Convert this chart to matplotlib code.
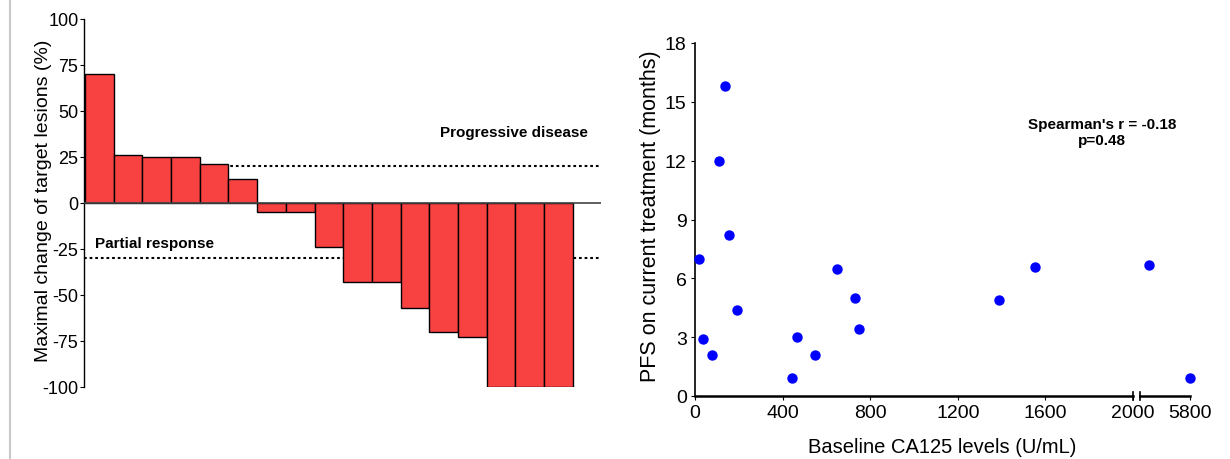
import numpy as np
import matplotlib.pyplot as plt
from matplotlib.lines import Line2D

plt.rcParams['font.family'] = ['Liberation Sans', 'DejaVu Sans']
plt.rcParams['axes.unicode_minus'] = False

# waterfall data: maximal change of target lesions (%)
change = [70, 26, 25, 25, 21, 13, -5, -5, -24, -43, -43, -57, -70, -73, -100, -100, -100]
pd_line = 20
pr_line = -30

# scatter data: baseline CA125 (U/mL) vs PFS (months)
ca125 = [18, 38, 77, 111, 138, 155, 194, 442, 467, 548, 650, 731, 751, 1389, 1551, 2650, 5800]
pfs = [7.0, 2.9, 2.1, 12.0, 15.8, 8.2, 4.4, 0.9, 3.0, 2.1, 6.5, 5.0, 3.4, 4.9, 6.6, 6.7, 0.9]

fig = plt.figure(figsize=(12.3, 4.6), dpi=100)
fig.add_artist(Line2D([10/1230, 10/1230], [0, 1], color='#c8c8c8', lw=1.5))

# ---- left: waterfall
ax = fig.add_axes([84/1230, 72/460, 517/1230, 368/460])
x = np.arange(len(change))
ax.axhline(pd_line, color='black', lw=1.5, ls=(0, (1.3, 1.4)), zorder=1)
ax.axhline(pr_line, color='black', lw=1.5, ls=(0, (1.3, 1.4)), zorder=1)
ax.bar(x, change, width=1, color='#f84141', edgecolor='black', lw=1, zorder=2)
ax.axhline(0, color='#444444', lw=1.2, zorder=3)
ax.set_xlim(-0.53, 17.48)
ax.set_ylim(-100, 100)
ax.set_yticks([100, 75, 50, 25, 0, -25, -50, -75, -100])
ax.set_xticks([])
for s in ['top', 'right', 'bottom']:
    ax.spines[s].set_visible(False)
ax.spines['left'].set_linewidth(1)
ax.tick_params(axis='y', labelsize=13, length=3, pad=1)
ax.set_ylabel('Maximal change of target lesions (%)', fontsize=14)
ax.yaxis.set_label_coords(-0.062, 0.51)
ax.text(17.03, 38.5, 'Progressive disease', ha='right', va='center',
        fontsize=11, fontweight='bold')
ax.text(-0.15, -22, 'Partial response', ha='left', va='center',
        fontsize=11, fontweight='bold')

# ---- right: scatter with broken x axis
ca = np.array(ca125)
pf = np.array(pfs)
lo = ca <= 2000

ax2 = fig.add_axes([695/1230, 63/460, 438/1230, 353/460])
ax2.scatter(ca[lo], pf[lo], s=42, color='#0000ff', zorder=3, clip_on=False)
ax2.set_xlim(0, 2000)
ax2.set_ylim(0, 18)
ax2.set_xticks([0, 400, 800, 1200, 1600, 2000])
ax2.set_yticks([0, 3, 6, 9, 12, 15, 18])
for s in ['top', 'right']:
    ax2.spines[s].set_visible(False)
ax2.spines['left'].set_linewidth(1.2)
ax2.spines['bottom'].set_linewidth(1.8)
ax2.tick_params(labelsize=14, length=3, pad=3)
ax2.set_ylabel('PFS on current treatment (months)', fontsize=15.5)
ax2.yaxis.set_label_coords(-0.078, 0.513)
ax2.set_xlabel('Baseline CA125 levels (U/mL)', fontsize=14.5)
ax2.xaxis.set_label_coords(0.565, -0.115)
ax2.plot([1, 1], [-0.012, 0.012], transform=ax2.transAxes, color='black',
         lw=1.2, clip_on=False)

ax3 = fig.add_axes([1140/1230, 63/460, 50/1230, 353/460])
ax3.patch.set_visible(False)
ax3.scatter(ca[~lo], pf[~lo], s=42, color='#0000ff', zorder=3, clip_on=False)
ax3.set_xlim(2000, 5800)
ax3.set_ylim(0, 18)
ax3.set_xticks([5800])
ax3.set_yticks([])
for s in ['top', 'right', 'left']:
    ax3.spines[s].set_visible(False)
ax3.spines['bottom'].set_linewidth(1.8)
ax3.tick_params(labelsize=14, length=3, pad=3)
ax3.plot([0, 0], [-0.012, 0.012], transform=ax3.transAxes, color='black',
         lw=1.2, clip_on=False)

fig.text(1102/1230, 1 - 133/460, "Spearman's r = -0.18\np=0.48", ha='center',
         va='center', fontsize=11, fontweight='bold', linespacing=1.25)

fig.savefig('out.png', dpi=100)
